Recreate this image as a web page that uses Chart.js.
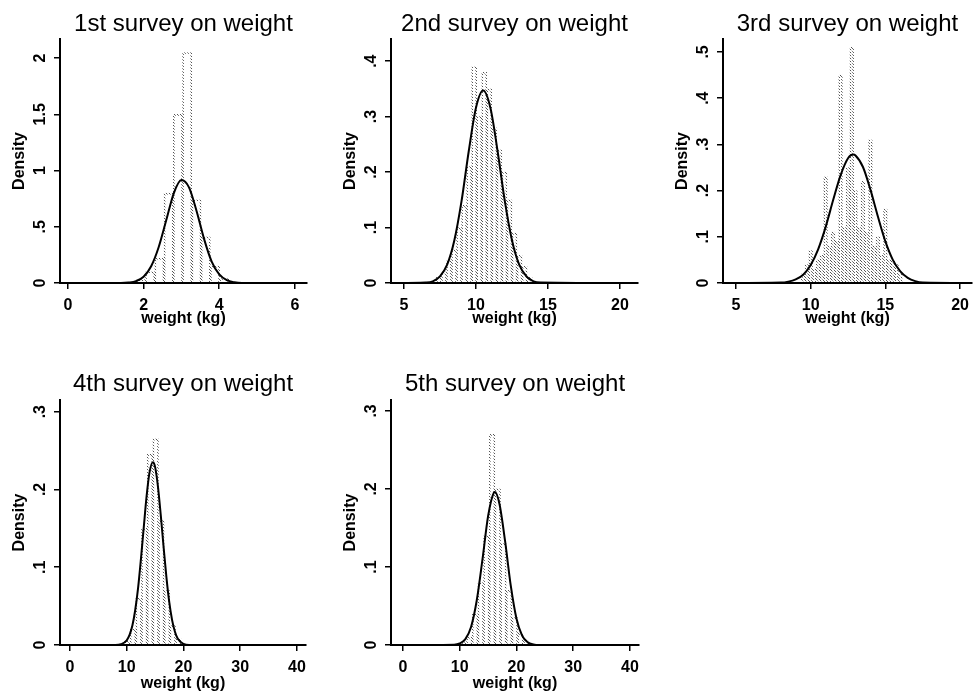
<!DOCTYPE html>
<html lang="en">
<head>
  <meta charset="UTF-8" />
  <title>Surveys on weight</title>
  <script src="https://cdn.jsdelivr.net/npm/chart.js"></script>
  <style>
    html, body { margin: 0; padding: 0; background: #fff; }
    body { width: 975px; height: 693px; position: relative; overflow: hidden; }
    .panel { position: absolute; }
    canvas { display: block; }
  </style>
</head>
<body>
  <div class="panel" style="left:0px;top:0px"><canvas id="s1" width="320" height="330"></canvas></div>
  <div class="panel" style="left:330px;top:0px"><canvas id="s2" width="320" height="330"></canvas></div>
  <div class="panel" style="left:660px;top:0px"><canvas id="s3" width="315" height="330"></canvas></div>
  <div class="panel" style="left:0px;top:340px"><canvas id="s4" width="320" height="353"></canvas></div>
  <div class="panel" style="left:330px;top:340px"><canvas id="s5" width="320" height="353"></canvas></div>

  <script>
    const FONT = "'Liberation Sans', Arial, Helvetica, sans-serif";
    const xLabel = 'weight (kg)';
    const yLabel = 'Density';

    // 1st survey
    const s1Title = '1st survey on weight';
    const s1BinMid = [1.9275, 2.1725, 2.4175, 2.6625, 2.9075, 3.1525, 3.3975, 3.6425, 3.8875, 4.1325];
    const s1BinDensity = [0.03, 0.1, 0.22, 0.8, 1.5, 2.05, 0.74, 0.41, 0.15, 0.04];
    const s1CurveX = [-0.2, 1.4, 1.6, 1.8, 2.0, 2.2, 2.4, 2.6, 2.8, 3.0, 3.2, 3.4, 3.6, 3.8, 4.0, 4.2, 4.4, 4.6, 6.3];
    const s1CurveY = [0, 0, 0.004, 0.017, 0.056, 0.149, 0.32, 0.56, 0.80, 0.915, 0.85, 0.64, 0.39, 0.19, 0.076, 0.025, 0.006, 0, 0];
    const s1XTicks = [0, 2, 4, 6];
    const s1YTicks = [0, 0.5, 1, 1.5, 2];

    // 2nd survey
    const s2Title = '2nd survey on weight';
    const s2BinMid = [7.425, 7.775, 8.125, 8.475, 8.825, 9.175, 9.525, 9.875, 10.225, 10.575,
                      10.925, 11.275, 11.625, 11.975, 12.325, 12.675, 13.025, 13.375, 13.725];
    const s2BinDensity = [0.01, 0.02, 0.04, 0.06, 0.1, 0.14, 0.21, 0.39, 0.3, 0.38,
                          0.35, 0.28, 0.24, 0.2, 0.15, 0.09, 0.05, 0.03, 0.01];
    const s2CurveX = [4.1, 6.5, 7.0, 7.5, 8.0, 8.5, 9.0, 9.5, 10.0, 10.5, 11.0, 11.5, 12.0, 12.5, 13.0, 13.5, 14.0, 14.5, 21.3];
    const s2CurveY = [0, 0.001, 0.003, 0.012, 0.033, 0.077, 0.148, 0.238, 0.316, 0.347, 0.316, 0.238, 0.148, 0.077, 0.033, 0.012, 0.003, 0.001, 0];
    const s2XTicks = [5, 10, 15, 20];
    const s2YTicks = [0, 0.1, 0.2, 0.3, 0.4];

    // 3rd survey
    const s3Title = '3rd survey on weight';
    const s3BinMid = [9.5, 9.75, 10.0, 10.25, 10.5, 10.75, 11.0, 11.25, 11.5, 11.75, 12.0, 12.25, 12.5, 12.75,
                      13.0, 13.25, 13.5, 13.75, 14.0, 14.25, 14.5, 14.75, 15.0, 15.25, 15.5, 15.75, 16.0];
    const s3BinDensity = [0.02, 0.04, 0.07, 0.03, 0.05, 0.06, 0.23, 0.08, 0.11, 0.09, 0.45, 0.12, 0.25, 0.51,
                          0.2, 0.12, 0.22, 0.11, 0.31, 0.08, 0.1, 0.06, 0.16, 0.05, 0.05, 0.04, 0.02];
    const s3CurveX = [4.1, 8.0, 8.5, 9.0, 9.5, 10.0, 10.5, 11.0, 11.5, 12.0, 12.5, 12.85, 13.0, 13.5,
                      14.0, 14.5, 15.0, 15.5, 16.0, 16.5, 17.0, 17.5, 20.8];
    const s3CurveY = [0, 0.001, 0.003, 0.008, 0.018, 0.039, 0.073, 0.121, 0.179, 0.233, 0.270, 0.278, 0.276, 0.251,
                      0.202, 0.144, 0.090, 0.050, 0.025, 0.011, 0.004, 0.001, 0];
    const s3XTicks = [5, 10, 15, 20];
    const s3YTicks = [0, 0.1, 0.2, 0.3, 0.4, 0.5];

    // 4th survey
    const s4Title = '4th survey on weight';
    const s4BinMid = [10.1, 11.1, 12.1, 13.1, 14.1, 15.1, 16.1, 17.1, 18.1, 19.1];
    const s4BinDensity = [0.005, 0.02, 0.06, 0.15, 0.245, 0.265, 0.16, 0.07, 0.025, 0.008];
    const s4CurveX = [-1.7, 8, 9, 10, 10.5, 11, 11.5, 12, 12.5, 13, 13.5, 14, 14.6, 15, 15.5, 16, 16.5,
                      17, 17.5, 18, 18.5, 19, 20, 21, 41.6];
    const s4CurveY = [0, 0, 0.001, 0.006, 0.013, 0.025, 0.045, 0.073, 0.110, 0.151, 0.191, 0.221, 0.235, 0.229, 0.204, 0.167, 0.126,
                      0.087, 0.055, 0.032, 0.017, 0.008, 0.0015, 0, 0];
    const s4XTicks = [0, 10, 20, 30, 40];
    const s4YTicks = [0, 0.1, 0.2, 0.3];

    // 5th survey
    const s5Title = '5th survey on weight';
    const s5BinMid = [10.7, 11.7, 12.7, 13.7, 14.7, 15.7, 16.7, 17.7, 18.7, 19.7, 20.7, 21.7];
    const s5BinDensity = [0.003, 0.01, 0.04, 0.08, 0.14, 0.27, 0.2, 0.13, 0.07, 0.035, 0.015, 0.005];
    const s5CurveX = [-2.1, 9, 10, 11, 12, 13, 14, 15, 16, 16.2, 17, 18, 19, 20, 21, 22, 23, 24, 41.6];
    const s5CurveY = [0, 0.0004, 0.002, 0.0075, 0.023, 0.057, 0.109, 0.165, 0.195, 0.196, 0.181, 0.133, 0.076, 0.034, 0.012, 0.0034, 0.0007, 0, 0];
    const s5XTicks = [0, 10, 20, 30, 40];
    const s5YTicks = [0, 0.1, 0.2, 0.3];

    // row geometry (title box height, x axis block height)
    const topRow = { titleTop: 10.2, titleBottom: 0, xHeight: 47, xTitleBottom: 1.7 };
    const bottomRow = { titleTop: 29.9, titleBottom: 1.3, xHeight: 48, xTitleBottom: 0 };

    const panels = [
      { id: 's1', row: topRow, title: s1Title, mid: s1BinMid, dens: s1BinDensity, cx: s1CurveX, cy: s1CurveY,
        xTicks: s1XTicks, yTicks: s1YTicks, xMin: -0.21, xMax: 6.32, yMax: 2.17, yWidth: 60, padRight: 13 },
      { id: 's2', row: topRow, title: s2Title, mid: s2BinMid, dens: s2BinDensity, cx: s2CurveX, cy: s2CurveY,
        xTicks: s2XTicks, yTicks: s2YTicks, xMin: 4.1, xMax: 21.25, yMax: 0.44, yWidth: 61, padRight: 12 },
      { id: 's3', row: topRow, title: s3Title, mid: s3BinMid, dens: s3BinDensity, cx: s3CurveX, cy: s3CurveY,
        xTicks: s3XTicks, yTicks: s3YTicks, xMin: 4.13, xMax: 20.8, yMax: 0.528, yWidth: 63, padRight: 3 },
      { id: 's4', row: bottomRow, title: s4Title, mid: s4BinMid, dens: s4BinDensity, cx: s4CurveX, cy: s4CurveY,
        xTicks: s4XTicks, yTicks: s4YTicks, xMin: -1.76, xMax: 41.6, yMax: 0.315, yWidth: 60, padRight: 14 },
      { id: 's5', row: bottomRow, title: s5Title, mid: s5BinMid, dens: s5BinDensity, cx: s5CurveX, cy: s5CurveY,
        xTicks: s5XTicks, yTicks: s5YTicks, xMin: -2.11, xMax: 41.6, yMax: 0.314, yWidth: 61, padRight: 11 }
    ];

    // Stata style labels: .5 instead of 0.5
    function fmt(v) {
      return String(+Number(v).toFixed(2)).replace(/^0\./, '.');
    }

    // faded scan look for the histogram outlines
    function dotPattern(ctx) {
      const c = document.createElement('canvas');
      c.width = 3; c.height = 3;
      const g = c.getContext('2d');
      g.fillStyle = '#555';
      g.fillRect(0, 0, 1, 1); g.fillRect(1, 1, 1, 1); g.fillRect(2, 2, 1, 1);
      return ctx.createPattern(c, 'repeat');
    }

    function makePanel(p) {
      const canvas = document.getElementById(p.id);
      const ctx = canvas.getContext('2d');
      ctx.font = 'bold 16px ' + FONT;
      const widest = Math.max(...p.yTicks.map(v => ctx.measureText(fmt(v)).width));
      const tickFont = { family: FONT, size: 16, weight: 'bold' };
      const axisTitleFont = { family: FONT, size: 16, weight: 'bold' };

      new Chart(canvas, {
        type: 'bar',
        data: {
          datasets: [
            {
              type: 'line',
              data: p.cx.map((x, i) => ({ x: x, y: p.cy[i] })),
              borderColor: '#000',
              borderWidth: 2,
              pointRadius: 0,
              cubicInterpolationMode: 'monotone',
              fill: false,
              order: 0
            },
            {
              type: 'bar',
              data: p.mid.map((x, i) => ({ x: x, y: p.dens[i] })),
              backgroundColor: 'rgba(0,0,0,0)',
              borderColor: dotPattern(ctx),
              borderWidth: 1,
              barPercentage: 1,
              categoryPercentage: 1,
              order: 1
            }
          ]
        },
        options: {
          responsive: false,
          animation: false,
          events: [],
          layout: { padding: { left: 0, right: p.padRight, top: 0, bottom: 0 } },
          plugins: {
            legend: { display: false },
            tooltip: { enabled: false },
            title: {
              display: true,
              text: p.title,
              fullSize: false,
              color: '#000',
              font: { family: FONT, size: 24, weight: 'normal' },
              padding: { top: p.row.titleTop, bottom: p.row.titleBottom }
            }
          },
          scales: {
            x: {
              type: 'linear',
              min: p.xMin,
              max: p.xMax,
              offset: false,
              afterBuildTicks: s => { s.ticks = p.xTicks.map(v => ({ value: v })); },
              afterFit: s => { s.height = p.row.xHeight; s.paddingLeft = 0; s.paddingRight = 0; },
              border: { display: true, color: '#000', width: 2 },
              grid: { display: true, offset: false, drawOnChartArea: false, drawTicks: true, tickLength: 6, color: '#000', lineWidth: 1.5 },
              ticks: { color: '#000', font: tickFont, minRotation: 0, maxRotation: 0, padding: 7.4, autoSkip: false, callback: v => String(v) },
              title: { display: true, text: xLabel, color: '#000', font: axisTitleFont, padding: { top: 0, bottom: p.row.xTitleBottom } }
            },
            y: {
              type: 'linear',
              min: 0,
              max: p.yMax,
              afterBuildTicks: s => { s.ticks = p.yTicks.map(v => ({ value: v })); },
              afterFit: s => { s.width = p.yWidth; s.paddingTop = 0; s.paddingBottom = 0; },
              border: { display: true, color: '#000', width: 2 },
              grid: { display: true, drawOnChartArea: false, drawTicks: true, tickLength: 6, color: '#000', lineWidth: 1.5 },
              ticks: {
                color: '#000', font: tickFont, minRotation: 90, maxRotation: 90, crossAlign: 'center',
                padding: 19 - 6 - widest / 2, autoSkip: false, callback: v => fmt(v)
              },
              title: { display: true, text: yLabel, color: '#000', font: axisTitleFont, padding: { top: p.yWidth - 49.6, bottom: 0 } }
            }
          }
        }
      });
    }

    panels.forEach(makePanel);
  </script>
</body>
</html>
